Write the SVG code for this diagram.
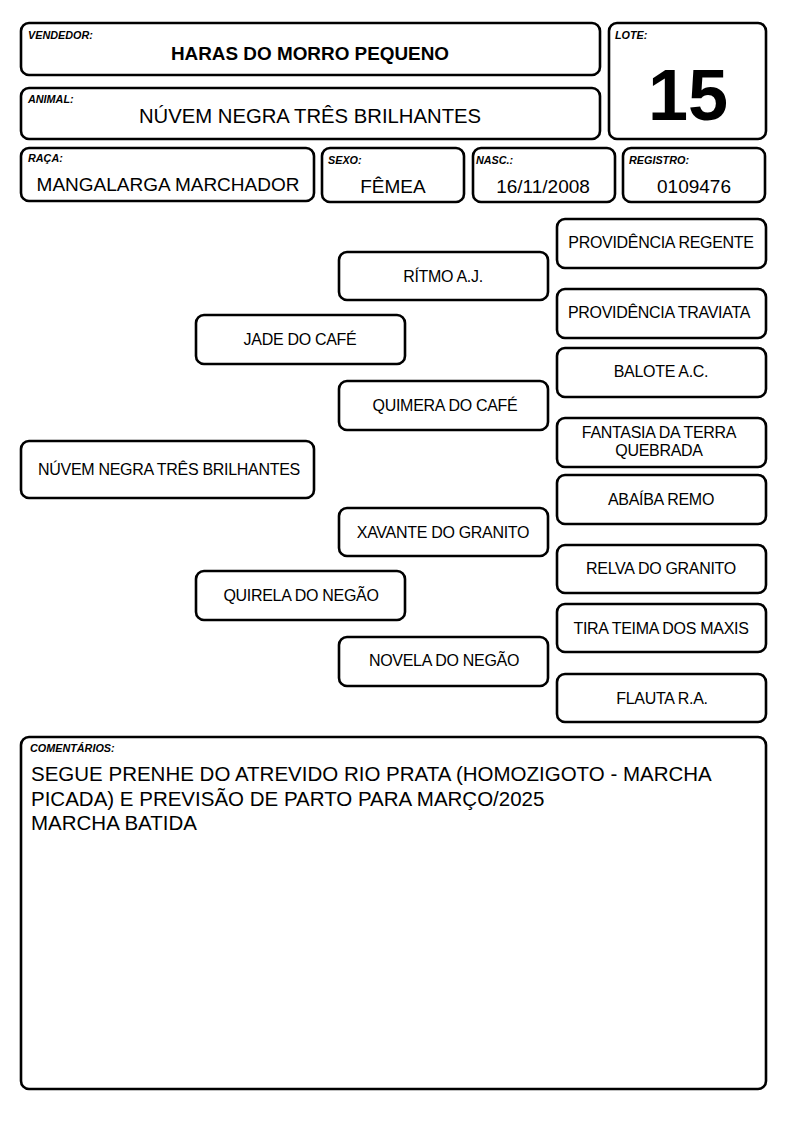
<svg xmlns="http://www.w3.org/2000/svg" width="794" height="1123" viewBox="0 0 794 1123">
<style>
rect{fill:#fff;stroke:#000;stroke-width:2.6}
text{font-family:"Liberation Sans",Arial,sans-serif;fill:#000}
.lb{font-size:10.8px;font-weight:bold;font-style:italic}
.v{font-size:19px;text-anchor:middle}
.p{font-size:16px;text-anchor:middle;letter-spacing:-0.3px}
.c{font-size:20.5px}
</style>
<rect width="794" height="1123" style="fill:#fff;stroke:none"/>
<g id="vendedor"><rect x="21" y="23" width="579" height="52" rx="8"/><text class="lb" x="28" y="39">VENDEDOR:</text><text x="310" y="60" style="font-size:18.9px;font-weight:bold;text-anchor:middle">HARAS DO MORRO PEQUENO</text></g>
<g id="animal"><rect x="21" y="88" width="579" height="51" rx="8"/><text class="lb" x="28" y="103">ANIMAL:</text><text x="310" y="123" style="font-size:20.3px;text-anchor:middle">NÚVEM NEGRA TRÊS BRILHANTES</text></g>
<g id="lote"><rect x="609" y="23" width="157" height="116" rx="8"/><text class="lb" x="615" y="39">LOTE:</text><text x="688" y="120" style="font-size:72px;font-weight:bold;text-anchor:middle">15</text></g>
<g id="raca"><rect x="21" y="148" width="293" height="53" rx="8"/><text class="lb" x="28" y="162">RAÇA:</text><text class="v" x="168" y="191">MANGALARGA MARCHADOR</text></g>
<g id="sexo"><rect x="322" y="148" width="142" height="54" rx="8"/><text class="lb" x="328" y="164">SEXO:</text><text class="v" x="393" y="193">FÊMEA</text></g>
<g id="nasc"><rect x="473" y="148" width="142" height="54" rx="8"/><text class="lb" x="476" y="164">NASC.:</text><text class="v" x="543" y="193">16/11/2008</text></g>
<g id="registro"><rect x="623" y="148" width="142" height="54" rx="8"/><text class="lb" x="629" y="164">REGISTRO:</text><text class="v" x="694" y="193">0109476</text></g>
<g id="connectors"></g>
<g id="n-prov-regente"><rect x="557" y="219" width="209" height="49" rx="8"/><text class="p" x="661" y="248">PROVIDÊNCIA REGENTE</text></g>
<g id="n-ritmo"><rect x="339" y="252" width="209" height="48" rx="8"/><text class="p" x="443" y="282">RÍTMO A.J.</text></g>
<g id="n-prov-traviata"><rect x="557" y="289" width="209" height="49" rx="8"/><text class="p" x="659" y="318">PROVIDÊNCIA TRAVIATA</text></g>
<g id="n-jade"><rect x="196" y="315" width="209" height="49" rx="8"/><text class="p" x="300" y="345">JADE DO CAFÉ</text></g>
<g id="n-balote"><rect x="557" y="348" width="209" height="49" rx="8"/><text class="p" x="661" y="377">BALOTE A.C.</text></g>
<g id="n-quimera"><rect x="339" y="381" width="209" height="49" rx="8"/><text class="p" x="445" y="411">QUIMERA DO CAFÉ</text></g>
<g id="n-fantasia"><rect x="557" y="418" width="209" height="49" rx="8"/><text class="p" x="659" y="438">FANTASIA DA TERRA</text><text class="p" x="659" y="456">QUEBRADA</text></g>
<g id="n-nuvem"><rect x="21" y="441" width="293" height="57" rx="8"/><text class="p" x="169" y="475">NÚVEM NEGRA TRÊS BRILHANTES</text></g>
<g id="n-abaiba"><rect x="557" y="475" width="209" height="49" rx="8"/><text class="p" x="661" y="505">ABAÍBA REMO</text></g>
<g id="n-xavante"><rect x="339" y="508" width="209" height="48" rx="8"/><text class="p" x="443" y="538">XAVANTE DO GRANITO</text></g>
<g id="n-relva"><rect x="557" y="545" width="209" height="48" rx="8"/><text class="p" x="661" y="574">RELVA DO GRANITO</text></g>
<g id="n-quirela"><rect x="196" y="571" width="209" height="49" rx="8"/><text class="p" x="301" y="601">QUIRELA DO NEGÃO</text></g>
<g id="n-tira"><rect x="557" y="604" width="209" height="48" rx="8"/><text class="p" x="661" y="634">TIRA TEIMA DOS MAXIS</text></g>
<g id="n-novela"><rect x="339" y="637" width="209" height="49" rx="8"/><text class="p" x="444" y="666">NOVELA DO NEGÃO</text></g>
<g id="n-flauta"><rect x="557" y="674" width="209" height="48" rx="8"/><text class="p" x="662" y="704">FLAUTA R.A.</text></g>
<g id="comentarios"><rect x="21" y="737" width="745" height="352" rx="8"/><text class="lb" x="30" y="752">COMENTÁRIOS:</text>
<text class="c" x="31" y="781">SEGUE PRENHE DO ATREVIDO RIO PRATA (HOMOZIGOTO - MARCHA</text>
<text class="c" x="31" y="806">PICADA) E PREVISÃO DE PARTO PARA MARÇO/2025</text>
<text class="c" x="31" y="830">MARCHA BATIDA</text></g>
</svg>
